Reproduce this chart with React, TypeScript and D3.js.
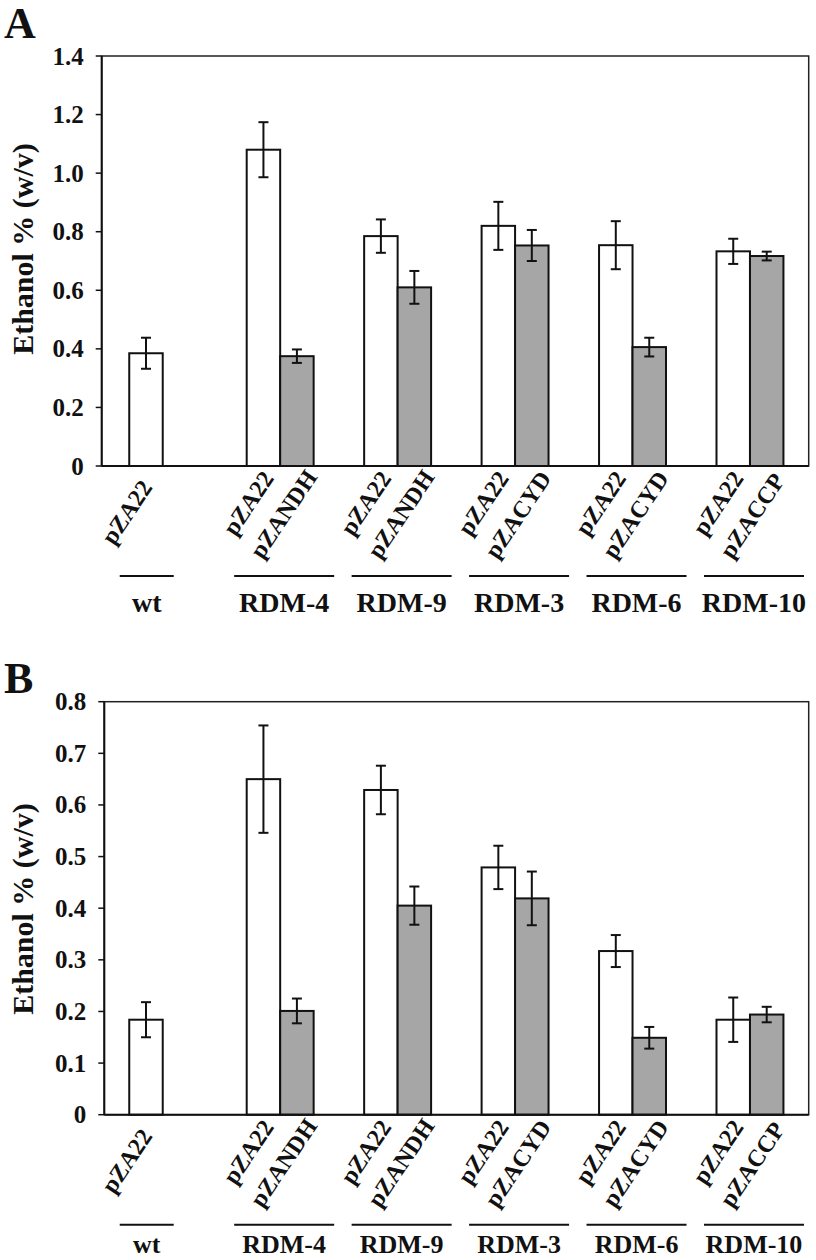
import React from "react";
import * as d3 from "d3";

const groups = ["wt", "RDM-4", "RDM-9", "RDM-3", "RDM-6", "RDM-10"];
const plasmidLabels = [
  ["pZA22"],
  ["pZA22", "pZANDH"],
  ["pZA22", "pZANDH"],
  ["pZA22", "pZACYD"],
  ["pZA22", "pZACYD"],
  ["pZA22", "pZACCP"],
];

// Panel A
const aControl = [0.385, 1.08, 0.785, 0.82, 0.754, 0.733];
const aControlErr = [0.053, 0.094, 0.057, 0.082, 0.082, 0.043];
const aOver: (number | null)[] = [null, 0.375, 0.61, 0.753, 0.406, 0.717];
const aOverErr: (number | null)[] = [null, 0.023, 0.056, 0.053, 0.032, 0.015];
const aTicks = [0, 0.2, 0.4, 0.6, 0.8, 1.0, 1.2, 1.4];
const aTickLabels = ["0", "0.2", "0.4", "0.6", "0.8", "1.0", "1.2", "1.4"];

// Panel B
const bControl = [0.184, 0.65, 0.629, 0.479, 0.317, 0.184];
const bControlErr = [0.034, 0.104, 0.047, 0.042, 0.031, 0.043];
const bOver: (number | null)[] = [null, 0.201, 0.405, 0.419, 0.149, 0.194];
const bOverErr: (number | null)[] = [null, 0.024, 0.037, 0.052, 0.021, 0.015];
const bTicks = [0, 0.1, 0.2, 0.3, 0.4, 0.5, 0.6, 0.7, 0.8];
const bTickLabels = ["0", "0.1", "0.2", "0.3", "0.4", "0.5", "0.6", "0.7", "0.8"];

const yTitle = "Ethanol % (w/v)";
const FONT = "'Liberation Serif', 'Times New Roman', serif";
const GREY = "#a6a6a6";

type PanelProps = {
  letter: string;
  letterY: number;
  left: number;
  top: number;
  right: number;
  bottom: number;
  yMax: number;
  ticks: number[];
  tickLabels: string[];
  control: number[];
  controlErr: number[];
  over: (number | null)[];
  overErr: (number | null)[];
  titleCenterY: number;
  groupBaseline: number;
  groupFontSize: number;
};

function Panel(p: PanelProps) {
  const y = d3.scaleLinear().domain([0, p.yMax]).range([p.bottom, p.top]);
  const x = d3.scaleBand<string>().domain(groups).range([104, p.right]).padding(0);
  const barW = x.bandwidth() * 0.285;
  const cap = 5;

  const bars: React.ReactNode[] = [];
  groups.forEach((g, i) => {
    const cc = (x(g) as number) + x.bandwidth() / 2;
    const series = [
      { v: p.control[i], e: p.controlErr[i], x0: cc - barW, fill: "#ffffff" },
      { v: p.over[i], e: p.overErr[i], x0: cc, fill: GREY },
    ];
    series.forEach((s, j) => {
      if (s.v == null) return;
      const v = s.v as number;
      const e = s.e as number;
      const mx = s.x0 + barW / 2;
      bars.push(
        <g key={`${g}-${j}`}>
          <rect x={s.x0} y={y(v)} width={barW} height={y(0) - y(v)} fill={s.fill} stroke="#111" strokeWidth={2} />
          <line x1={mx} x2={mx} y1={y(v + e)} y2={y(v - e)} stroke="#111" strokeWidth={2} />
          <line x1={mx - cap} x2={mx + cap} y1={y(v + e)} y2={y(v + e)} stroke="#111" strokeWidth={2} />
          <line x1={mx - cap} x2={mx + cap} y1={y(v - e)} y2={y(v - e)} stroke="#111" strokeWidth={2} />
        </g>
      );
    });
  });

  const labels: React.ReactNode[] = [];
  groups.forEach((g, i) => {
    const cc = (x(g) as number) + x.bandwidth() / 2;
    const lines = plasmidLabels[i];
    lines.forEach((t, j) => {
      let dx: number, dy: number;
      if (lines.length === 1) {
        dx = -49;
        dy = 80;
      } else if (j === 0) {
        dx = -45;
        dy = 71;
      } else {
        dx = -18;
        dy = 94;
      }
      labels.push(
        <text
          key={`lab-${g}-${j}`}
          transform={`translate(${cc + dx},${p.bottom + dy}) rotate(-56)`}
          fontFamily={FONT}
          fontWeight="bold"
          fontSize={24}
          textAnchor="start"
          fill="#111"
        >
          {t}
        </text>
      );
    });
    const single = lines.length === 1;
    const lx0 = single ? cc - 43 : cc - 46;
    const lx1 = single ? cc + 11 : cc + 54;
    labels.push(
      <line key={`ul-${g}`} x1={lx0} x2={lx1} y1={p.bottom + 110} y2={p.bottom + 110} stroke="#111" strokeWidth={2} />
    );
    labels.push(
      <text
        key={`g-${g}`}
        x={(lx0 + lx1) / 2}
        y={p.groupBaseline}
        textAnchor="middle"
        fontFamily={FONT}
        fontWeight="bold"
        fontSize={p.groupFontSize}
        fill="#111"
      >
        {g}
      </text>
    );
  });

  return (
    <g>
      <text x={4} y={p.letterY} fontFamily={FONT} fontWeight="bold" fontSize={44} fill="#111">
        {p.letter}
      </text>
      <rect
        x={p.left}
        y={p.top}
        width={p.right - p.left}
        height={p.bottom - p.top}
        fill="none"
        stroke="#222"
        strokeWidth={1.5}
      />
      {bars}
      <line x1={p.left} x2={p.left} y1={p.top} y2={p.bottom} stroke="#111" strokeWidth={2} />
      <line x1={p.left} x2={p.right} y1={p.bottom} y2={p.bottom} stroke="#111" strokeWidth={2} />
      {p.ticks.map((t, k) => (
        <g key={`t-${k}`}>
          <line x1={p.left - 6} x2={p.left} y1={y(t)} y2={y(t)} stroke="#111" strokeWidth={1.5} />
          <text
            x={p.left - 18}
            y={y(t)}
            dy="0.34em"
            textAnchor="end"
            fontFamily={FONT}
            fontWeight="bold"
            fontSize={25}
            fill="#111"
          >
            {p.tickLabels[k]}
          </text>
        </g>
      ))}
      <text
        transform={`translate(33,${p.titleCenterY}) rotate(-90)`}
        textAnchor="middle"
        fontFamily={FONT}
        fontWeight="bold"
        fontSize={30}
        fill="#111"
      >
        {yTitle}
      </text>
      {labels}
    </g>
  );
}

export default function App() {
  return (
    <svg
      width={816}
      height={1260}
      style={{ position: "absolute", left: 0, top: 0, display: "block", background: "#fff" }}
    >
      <rect width={816} height={1260} fill="#fff" />
      <Panel
        letter="A"
        letterY={38}
        left={101.7}
        top={56}
        right={808.7}
        bottom={466}
        yMax={1.4}
        ticks={aTicks}
        tickLabels={aTickLabels}
        control={aControl}
        controlErr={aControlErr}
        over={aOver}
        overErr={aOverErr}
        titleCenterY={249}
        groupBaseline={612}
        groupFontSize={28}
      />
      <Panel
        letter="B"
        letterY={693}
        left={104.3}
        top={701.7}
        right={808.7}
        bottom={1114.7}
        yMax={0.8}
        ticks={bTicks}
        tickLabels={bTickLabels}
        control={bControl}
        controlErr={bControlErr}
        over={bOver}
        overErr={bOverErr}
        titleCenterY={909}
        groupBaseline={1253}
        groupFontSize={26}
      />
    </svg>
  );
}
